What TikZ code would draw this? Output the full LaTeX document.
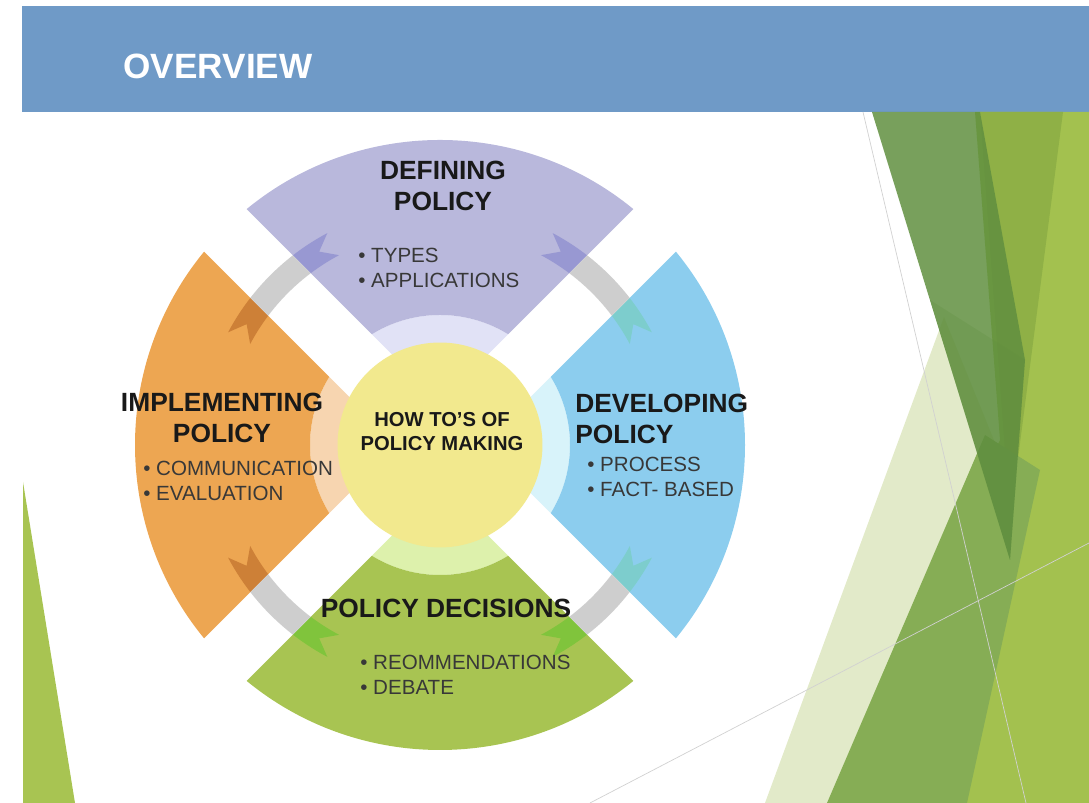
\documentclass[tikz,border=0pt]{standalone}
\usepackage{fontspec}
\setmainfont{Liberation Sans}
\definecolor{headblue}{RGB}{111,154,199}
\definecolor{lav}{RGB}{185,184,220}
\definecolor{lavl}{RGB}{225,226,246}
\definecolor{lavd}{RGB}{152,152,210}
\definecolor{ora}{RGB}{237,166,82}
\definecolor{oral}{RGB}{247,213,176}
\definecolor{orad}{RGB}{205,128,55}
\definecolor{sky}{RGB}{140,205,238}
\definecolor{skyl}{RGB}{216,243,250}
\definecolor{skyd}{RGB}{125,205,205}
\definecolor{leaf}{RGB}{168,196,82}
\definecolor{leafl}{RGB}{221,241,172}
\definecolor{leafd}{RGB}{128,196,60}
\definecolor{hubyellow}{RGB}{242,233,142}
\definecolor{ringgray}{RGB}{206,206,206}
\definecolor{facetlight}{RGB}{163,193,79}
\definecolor{facetmid}{RGB}{143,176,70}
\definecolor{facetlow}{RGB}{134,173,85}
\definecolor{facetpale}{RGB}{226,234,201}
\definecolor{facetolive}{RGB}{96,143,63}
\usetikzlibrary{positioning}

\begin{document}
\begin{tikzpicture}[x=0.02cm,y=0.02cm,
	title/.style={font=\bfseries\fontsize{15}{17.6}\selectfont,text=black!90,align=center,inner sep=0pt},
	items/.style={font=\fontsize{11.7}{14.2}\selectfont,text=black!78,align=left,inner sep=0pt,anchor=west}]
	\useasboundingbox (0,0) rectangle (1089,803);
	% slide background
	\fill[headblue] (22,691) rectangle (1089,797);
	\fill[leaf] (23,321) -- (75,0) -- (23,0) -- cycle;
	\fill[facetlight] (975,691) -- (1089,691) -- (1089,0) -- (827,0) -- (1000,363) -- cycle;
	\fill[facetmid] (980,691) -- (1063,691) -- (1010,283) -- cycle;
	\fill[facetpale] (944,486) -- (998,353) -- (827,0) -- (765,0) -- cycle;
	\fill[facetlow] (985,368) -- (1040,333) -- (967,0) -- (827,0) -- cycle;
	\fill[facetolive,fill opacity=0.85] (872,691) -- (980,691) -- (1025,443) -- (1010,243) -- cycle;
	\fill[facetolive,fill opacity=0.25] (930,503) -- (1025,443) -- (1010,243) -- cycle;
	\draw[black!18] (863,691) -- (1026,0);
	\draw[black!18] (590,0) -- (1089,260);
	\path (218,737) node(overview)[font=\bfseries\fontsize{20}{24}\selectfont,text=white,inner sep=0pt]{OVERVIEW};
	% cycle
	\begin{scope}[shift={(440,358)}]
		\foreach \a/\main/\light/\dark in {90/lav/lavl/lavd,0/sky/skyl/skyd,-90/leaf/leafl/leafd,180/ora/oral/orad}{
			\fill[\light] (0,0) -- ({\a-45}:130) arc[start angle=\a-45,end angle=\a+45,radius=130] -- cycle;
			\fill[\main] ({\a-45}:130) arc[start angle=\a-45,end angle=\a+45,radius=130]
				-- ({\a+45}:305) arc[start angle=\a+45,end angle=\a-45,radius=305] -- cycle;
			\fill[\dark] ({\a+45}:240) arc[start angle=\a+45,end angle=\a+28,radius=240]
				-- ({\a+32}:228) -- ({\a+28}:215) arc[start angle=\a+28,end angle=\a+45,radius=215] -- cycle;
			\fill[\dark] ({\a-45}:240) arc[start angle=\a-45,end angle=\a-28,radius=240]
				-- ({\a-32}:228) -- ({\a-28}:215) arc[start angle=\a-28,end angle=\a-45,radius=215] -- cycle;
		}
		\foreach \r in {45,-45}{
			\fill[white,rotate=\r] (-315,-30) rectangle (315,30);
		}
		\foreach \r in {45,-45}{
			\begin{scope}
				\clip[rotate=\r] (-315,-30) rectangle (315,30);
				\fill[ringgray,even odd rule] (0,0) circle[radius=240] circle[radius=215];
			\end{scope}
		}
		\path (0,0) node(hub)[circle,fill=hubyellow,minimum size=4.1cm,inner sep=0pt]{};
	\end{scope}
	% texts
	\path (442,371.5) node(hubtext)[title,font=\bfseries\fontsize{11.5}{13.2}\selectfont]{HOW TO'S OF\\POLICY MAKING}
		(443,617) node(defining)[title]{DEFINING\\POLICY}
		(358,535.5) node(definingitems)[items]{\textbullet\ TYPES\\\textbullet\ APPLICATIONS}
		(222,385) node(implementing)[title]{IMPLEMENTING\\POLICY}
		(143,322.5) node(implementingitems)[items]{\textbullet\ COMMUNICATION\\\textbullet\ EVALUATION}
		(575,384) node(developing)[title,align=left,anchor=west]{DEVELOPING\\POLICY}
		(587,326) node(developingitems)[items]{\textbullet\ PROCESS\\\textbullet\ FACT- BASED}
		(446,195) node(decisions)[title]{POLICY DECISIONS}
		(360,128.5) node(decisionsitems)[items]{\textbullet\ REOMMENDATIONS\\\textbullet\ DEBATE};
\end{tikzpicture}
\end{document}
